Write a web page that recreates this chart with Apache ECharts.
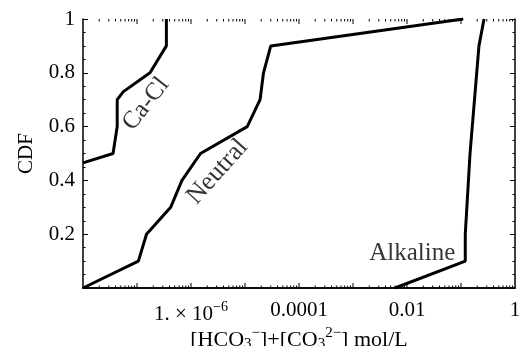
<!DOCTYPE html>
<html>
<head>
<meta charset="utf-8">
<script src="https://cdn.jsdelivr.net/npm/echarts@6/dist/echarts.min.js"></script>
<style>
html, body { margin: 0; padding: 0; background: #fff; }
#chart { width: 523px; height: 346px; }
</style>
</head>
<body>
<div id="chart"></div>
<script>
// Cumulative distributions of total carbonate ([HCO3-]+[CO3 2-], mol/L) per water type
const caClConc = [1e-8, 3.6e-8, 4.3e-8, 4.3e-8, 5.6e-8, 1.74e-7, 3.5e-7, 3.5e-7];
const caClCdf = [0.465, 0.5, 0.6, 0.7, 0.73, 0.8, 0.9, 1.0];

const neutralConc = [1e-8, 1.06e-7, 1.5e-7, 4.2e-7, 6.8e-7, 1.5e-6, 1.1e-5, 1.9e-5, 2.2e-5, 3.0e-5, 0.11];
const neutralCdf = [0, 0.1, 0.2, 0.3, 0.4, 0.5, 0.6, 0.7, 0.8, 0.9, 1.0];

const alkalineConc = [0.006, 0.12, 0.12, 0.147, 0.215, 0.267];
const alkalineCdf = [0, 0.1, 0.2, 0.5, 0.9, 1.0];

// Curve labels: text, anchor concentration, anchor CDF, rotation (deg)
const labelTexts = ['Ca-Cl', 'Neutral', 'Alkaline'];
const labelConc = [1.47e-7, 3.1e-6, 0.0125];
const labelCdf = [0.684, 0.432, 0.13];
const labelRotate = [52, 48, 0];
const labelSize = [25, 26, 25];

// Axis tick labels
const xTickExponents = [-6, -4, -2, 0];
const xTickTexts = ['{m|1. \u00d7 10}{s|\u22126}', '0.0001', '0.01', '1'];
const yTickValues = [0.2, 0.4, 0.6, 0.8, 1];
const yTickTexts = ['0.2', '0.4', '0.6', '0.8', '1'];

const X_MIN = 1e-8, X_MAX = 1;
const FONT = 'Liberation Serif';

const pairs = (xs, ys) => xs.map((x, i) => [x, ys[i]]);

// Log-axis tick marks: a longer mark at each decade, short marks at 2..9
const xTicks = [];
for (let e = -8; e < 0; e++) {
  for (let m = 1; m <= 9; m++) {
    const v = m * Math.pow(10, e);
    if (m === 1 && e === -8) continue;
    xTicks.push([v, 0.5, m === 1 ? 5 : 2.5]);
  }
}

const chart = echarts.init(document.getElementById('chart'), null, { renderer: 'canvas' });

const lineStyle = { color: '#000', width: 3 };
const makeLine = (name, xs, ys) => ({
  name, type: 'line', data: pairs(xs, ys), showSymbol: false, symbol: 'none',
  lineStyle, clip: true, animation: false, z: 3
});

const axisLineStyle = { show: true, lineStyle: { color: '#000', width: 1.5 } };

chart.setOption({
  animation: false,
  backgroundColor: '#fff',
  grid: { left: 83, top: 19, right: 8, bottom: 58, containLabel: false, outerBoundsMode: 'none' },
  xAxis: [{
    type: 'log', logBase: 10, min: X_MIN, max: X_MAX, position: 'bottom',
    axisLine: axisLineStyle, axisTick: { show: false }, splitLine: { show: false },
    axisLabel: {
      margin: 12, color: '#000', fontFamily: FONT, fontSize: 21,
      showMinLabel: true, showMaxLabel: true, hideOverlap: false,
      formatter: v => {
        const e = Math.round(Math.log10(v));
        const i = xTickExponents.indexOf(e);
        return i < 0 ? '' : xTickTexts[i];
      },
      rich: {
        m: { fontFamily: FONT, fontSize: 21, color: '#000' },
        s: { fontFamily: FONT, fontSize: 14, color: '#000', padding: [0, 0, 14, 0] }
      }
    },
    name: '[HCO{sb|3}{sp|\u2212}]+[CO{sb|3}{sp|2\u2212}] mol/L',
    nameLocation: 'middle', nameGap: 38, nameMoveOverlap: false,
    nameTextStyle: {
      fontFamily: FONT, fontSize: 22, color: '#000',
      rich: {
        sb: { fontFamily: FONT, fontSize: 15, color: '#000', padding: [8, 0, 0, 0] },
        sp: { fontFamily: FONT, fontSize: 15, color: '#000', padding: [0, 0, 14, 0] }
      }
    }
  }, {
    type: 'log', logBase: 10, min: X_MIN, max: X_MAX, position: 'top',
    axisLine: axisLineStyle, axisTick: { show: false }, axisLabel: { show: false },
    splitLine: { show: false }
  }],
  yAxis: [{
    type: 'value', min: 0, max: 1, interval: 0.2, position: 'left',
    axisLine: axisLineStyle,
    axisTick: { show: true, inside: true, length: 5, lineStyle: { color: '#000', width: 1 } },
    minorTick: { show: true, splitNumber: 4, length: 2.5, lineStyle: { color: '#000', width: 1 } },
    splitLine: { show: false },
    axisLabel: {
      margin: 8, color: '#000', fontFamily: FONT, fontSize: 21,
      formatter: v => {
        const i = yTickValues.findIndex(t => Math.abs(t - v) < 1e-6);
        return i < 0 ? '' : yTickTexts[i];
      }
    },
    name: 'CDF', nameLocation: 'middle', nameGap: 46, nameRotate: 90,
    nameTextStyle: { fontFamily: FONT, fontSize: 21, color: '#000' }
  }, {
    type: 'value', min: 0, max: 1, interval: 0.2, position: 'right',
    axisLine: axisLineStyle,
    axisTick: { show: true, inside: true, length: 5, lineStyle: { color: '#000', width: 1 } },
    minorTick: { show: true, splitNumber: 4, length: 2.5, lineStyle: { color: '#000', width: 1 } },
    splitLine: { show: false }, axisLabel: { show: false }
  }],
  series: [
    makeLine('Ca-Cl', caClConc, caClCdf),
    makeLine('Neutral', neutralConc, neutralCdf),
    makeLine('Alkaline', alkalineConc, alkalineCdf),
    {
      // log-scale tick marks on the bottom and top frame
      type: 'custom', xAxisIndex: 0, yAxisIndex: 0, data: xTicks, encode: { x: 0, y: 1 },
      silent: true, clip: false, z: 4,
      renderItem: (params, api) => {
        const x = api.coord([api.value(0), 0.5])[0];
        const len = api.value(2);
        const cs = params.coordSys;
        const bottom = cs.y + cs.height;
        return {
          type: 'group',
          children: [
            { type: 'line', shape: { x1: x, y1: bottom, x2: x, y2: bottom - len }, style: { stroke: '#000', lineWidth: 1 } },
            { type: 'line', shape: { x1: x, y1: cs.y, x2: x, y2: cs.y + len }, style: { stroke: '#000', lineWidth: 1 } }
          ]
        };
      }
    },
    {
      type: 'scatter', symbolSize: 0, silent: true, z: 5,
      data: labelTexts.map((t, i) => ({
        value: [labelConc[i], labelCdf[i]],
        label: {
          show: true, position: 'inside', formatter: t, rotate: labelRotate[i],
          fontFamily: FONT, fontSize: labelSize[i], color: '#000'
        }
      }))
    }
  ]
});
</script>
</body>
</html>
